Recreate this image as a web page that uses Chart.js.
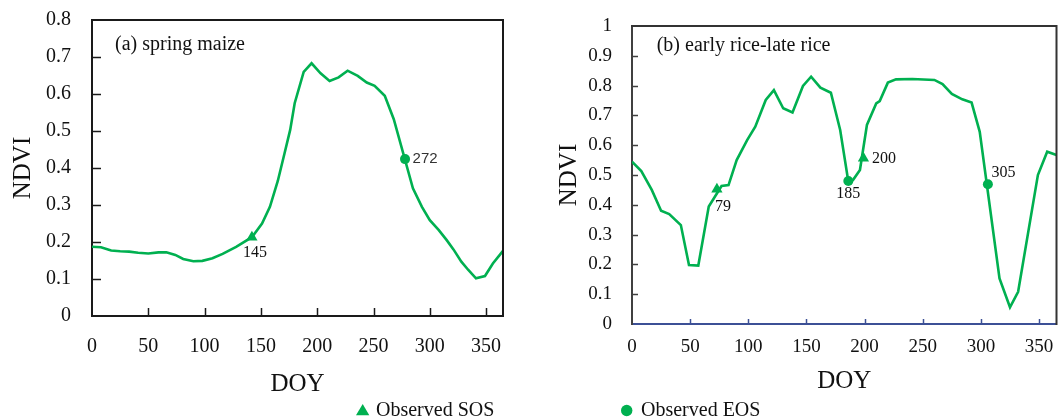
<!DOCTYPE html>
<html><head><meta charset="utf-8">
<script src="https://cdn.jsdelivr.net/npm/chart.js@4.4.1/dist/chart.umd.min.js"></script>
<style>
html,body{margin:0;padding:0;background:#fff;}
#wrap{position:relative;width:1063px;height:419px;overflow:hidden;font-family:"Liberation Serif","Times New Roman",serif;}
#cA{position:absolute;left:0;top:0;}
#cB{position:absolute;left:530px;top:0;}
.leg{position:absolute;top:397px;font-size:20px;line-height:24px;color:#111;white-space:nowrap;}
.mk{position:absolute;}
</style></head><body>
<div id="wrap">
<canvas id="cA" width="530" height="419"></canvas>
<canvas id="cB" width="533" height="419"></canvas>
<svg class="mk" style="left:355px;top:403px" width="16" height="14"><polygon points="7.7,1 14.3,12.3 1,12.3" fill="#00b050"/></svg>
<div class="leg" style="left:376px">Observed SOS</div>
<svg class="mk" style="left:620px;top:404px" width="14" height="14"><circle cx="6.7" cy="6.5" r="5.7" fill="#00b050"/></svg>
<div class="leg" style="left:641px">Observed EOS</div>
</div>
<script>
// ---------- data ----------
const X_TICKS = [0, 50, 100, 150, 200, 250, 300, 350];
const Y_TICKS_A = [0, 0.1, 0.2, 0.3, 0.4, 0.5, 0.6, 0.7, 0.8];
const Y_TICKS_B = [0, 0.1, 0.2, 0.3, 0.4, 0.5, 0.6, 0.7, 0.8, 0.9, 1];

// (a) spring maize
const DOY_A = [0, 8, 17, 25, 33, 41, 50, 59, 66, 74, 81, 90, 98, 107, 116, 128, 142, 151, 158, 165, 171, 176, 180, 188, 195, 203, 211, 219, 227, 236, 244, 251, 260, 268, 285, 293, 300, 308, 315, 321, 328, 334, 341, 349, 356, 365];
const NDVI_A = [0.187, 0.186, 0.177, 0.175, 0.174, 0.171, 0.169, 0.172, 0.172, 0.165, 0.154, 0.148, 0.149, 0.156, 0.168, 0.187, 0.213, 0.25, 0.295, 0.365, 0.44, 0.503, 0.575, 0.66, 0.683, 0.656, 0.635, 0.645, 0.663, 0.649, 0.631, 0.622, 0.595, 0.532, 0.345, 0.295, 0.259, 0.232, 0.205, 0.18, 0.147, 0.125, 0.102, 0.108, 0.142, 0.176];
const SOS_A_DOY = [142];
const SOS_A_NDVI = [0.213];
const SOS_A_LABEL = ['145'];
const EOS_A_DOY = [278];
const EOS_A_NDVI = [0.424];
const EOS_A_LABEL = ['272'];

// (b) early rice-late rice
const DOY_B = [0, 8, 17, 25, 32, 42, 49, 57, 66, 77, 83, 90, 99, 106, 115, 122, 130, 138, 147, 154, 162, 171, 179, 186, 190, 196, 202, 210, 213, 220, 227, 241, 260, 267, 275, 284, 292, 299, 316, 325, 332, 349, 357, 365];
const NDVI_B = [0.545, 0.513, 0.45, 0.38, 0.369, 0.332, 0.198, 0.196, 0.394, 0.463, 0.466, 0.55, 0.617, 0.662, 0.752, 0.785, 0.724, 0.71, 0.799, 0.83, 0.793, 0.776, 0.651, 0.478, 0.483, 0.517, 0.668, 0.74, 0.748, 0.81, 0.821, 0.822, 0.819, 0.805, 0.772, 0.754, 0.743, 0.645, 0.153, 0.056, 0.108, 0.5, 0.578, 0.567];
const SOS_B_DOY = [73, 199];
const SOS_B_NDVI = [0.452, 0.556];
const SOS_B_LABEL = ['79', '200'];
const EOS_B_DOY = [186, 306];
const EOS_B_NDVI = [0.48, 0.469];
const EOS_B_LABEL = ['185', '305'];

// ---------- styles ----------
const GREEN = '#00b050';
const SERIF = '"Liberation Serif", "Times New Roman", serif';
const SANS = '"Liberation Sans", Arial, sans-serif';

const zip = (xs, ys) => xs.map((x, i) => ({x: x, y: ys[i]}));

const frameTicks = {
  id: 'frameTicks',
  afterDraw(chart, args, o) {
    const {ctx, chartArea: a, scales: {x, y}} = chart;
    ctx.save();
    ctx.lineCap = 'butt';
    ctx.strokeStyle = o.frameColor; ctx.lineWidth = o.frameWidth;
    ctx.beginPath();
    ctx.moveTo(a.left - 1, a.top); ctx.lineTo(a.right, a.top); ctx.lineTo(a.right, a.bottom + 1);
    ctx.stroke();
    ctx.lineWidth = o.tickWidth;
    ctx.strokeStyle = o.xTickColor;
    x.ticks.forEach(t => {
      if (t.value <= x.min || t.value >= x.max) return;
      const px = Math.round(x.getPixelForValue(t.value)) + 0.5;
      ctx.beginPath(); ctx.moveTo(px, a.bottom); ctx.lineTo(px, a.bottom - o.xTickLen); ctx.stroke();
    });
    ctx.strokeStyle = o.yTickColor;
    y.ticks.forEach(t => {
      if (t.value <= y.min || t.value >= y.max) return;
      const py = Math.round(y.getPixelForValue(t.value)) + 0.5;
      ctx.beginPath(); ctx.moveTo(a.left, py); ctx.lineTo(a.left + o.yTickLen, py); ctx.stroke();
    });
    ctx.restore();
  }
};

const annot = {
  id: 'annot',
  afterDatasetsDraw(chart, args, o) {
    const {ctx, chartArea: a, scales: {x, y}} = chart;
    ctx.save();
    ctx.textBaseline = 'middle';
    o.items.forEach(it => {
      ctx.font = it.font; ctx.fillStyle = it.color; ctx.textAlign = it.align;
      ctx.fillText(it.text, x.getPixelForValue(it.x) + it.dx, y.getPixelForValue(it.y) + it.dy);
    });
    ctx.font = '20px ' + SERIF; ctx.fillStyle = '#111'; ctx.textAlign = 'left';
    ctx.fillText(o.title, a.left + o.tdx, a.top + o.tdy);
    ctx.restore();
  }
};

function labelItems(xs, ys, labels, styles) {
  return xs.map((v, i) => Object.assign({x: v, y: ys[i], text: labels[i]}, styles[i]));
}

function zeroPad(sc) { sc.paddingLeft = 0; sc.paddingRight = 0; sc.paddingTop = 0; sc.paddingBottom = 0; }

function makeChart(id, s) {
  return new Chart(document.getElementById(id), {
    type: 'scatter',
    data: {datasets: [
      {label: 'Observed SOS', data: zip(s.sosX, s.sosY), pointStyle: 'triangle', pointRadius: 6.5, backgroundColor: GREEN, borderWidth: 0, showLine: false, order: 0},
      {label: 'Observed EOS', data: zip(s.eosX, s.eosY), pointStyle: 'circle', pointRadius: 5, backgroundColor: GREEN, borderWidth: 0, showLine: false, order: 0},
      {label: 'NDVI', data: zip(s.x, s.y), showLine: true, borderColor: GREEN, borderWidth: 2.6, pointRadius: 0, tension: 0, fill: false, order: 1}
    ]},
    options: {
      responsive: false, animation: false, events: [],
      layout: {padding: {left: 0, right: s.padR, top: s.padT, bottom: 0}},
      plugins: {
        legend: {display: false}, tooltip: {enabled: false},
        frameTicks: s.frame,
        annot: {items: s.items, title: s.title, tdx: s.tdx, tdy: s.tdy}
      },
      scales: {
        x: {
          type: 'linear', min: 0, max: 365,
          afterBuildTicks: sc => { sc.ticks = X_TICKS.map(v => ({value: v})); },
          afterFit: sc => { sc.height = s.xH; zeroPad(sc); },
          ticks: {font: {family: SERIF, size: s.tickSize}, color: '#111', padding: s.xPad, maxRotation: 0, autoSkip: false, callback: v => String(v)},
          grid: {display: true, drawOnChartArea: false, drawTicks: false},
          border: {display: true, color: s.xColor, width: 2},
          title: {display: true, text: 'DOY', font: {family: SERIF, size: 25}, color: '#111', padding: {top: 0, bottom: s.xTitlePad}}
        },
        y: {
          type: 'linear', min: 0, max: s.yMax,
          afterBuildTicks: sc => { sc.ticks = s.yTicks.map(v => ({value: v})); },
          afterFit: sc => { sc.width = s.yW; zeroPad(sc); },
          ticks: {font: {family: SERIF, size: s.tickSize}, color: '#111', padding: s.yPad, autoSkip: false, callback: v => String(v)},
          grid: {display: true, drawOnChartArea: false, drawTicks: false},
          border: {display: true, color: s.yColor, width: 2},
          title: {display: true, text: 'NDVI', font: {family: SERIF, size: 25}, color: '#111', padding: {top: s.yTitlePad, bottom: 0}}
        }
      }
    },
    plugins: [frameTicks, annot]
  });
}

makeChart('cA', {
  x: DOY_A, y: NDVI_A, sosX: SOS_A_DOY, sosY: SOS_A_NDVI, eosX: EOS_A_DOY, eosY: EOS_A_NDVI,
  yMax: 0.8, yTicks: Y_TICKS_A,
  padR: 27, padT: 20, xH: 103, yW: 92, tickSize: 20, xPad: 19, yPad: 21, xTitlePad: 20, yTitlePad: 8,
  xColor: '#1a1a1a', yColor: '#1a1a1a',
  frame: {frameColor: '#1a1a1a', frameWidth: 2, tickWidth: 1.5, xTickColor: '#1a1a1a', yTickColor: '#1a1a1a', xTickLen: 8, yTickLen: 9},
  items: labelItems(SOS_A_DOY, SOS_A_NDVI, SOS_A_LABEL, [{dx: 3, dy: 16, align: 'center', font: '16px ' + SERIF, color: '#111'}])
    .concat(labelItems(EOS_A_DOY, EOS_A_NDVI, EOS_A_LABEL, [{dx: 7.5, dy: -0.5, align: 'left', font: '15px ' + SANS, color: '#333'}])),
  title: '(a) spring maize', tdx: 23, tdy: 24.3
});

makeChart('cB', {
  x: DOY_B, y: NDVI_B, sosX: SOS_B_DOY, sosY: SOS_B_NDVI, eosX: EOS_B_DOY, eosY: EOS_B_NDVI,
  yMax: 1, yTicks: Y_TICKS_B,
  padR: 1, padT: 26, xH: 95, yW: 102, tickSize: 19, xPad: 12, yPad: 20, xTitlePad: 23, yTitlePad: 24,
  xColor: '#3c5096', yColor: '#404040',
  frame: {frameColor: '#333333', frameWidth: 2, tickWidth: 1.5, xTickColor: '#3c5096', yTickColor: '#404040', xTickLen: 5, yTickLen: 6},
  items: labelItems(SOS_B_DOY, SOS_B_NDVI, SOS_B_LABEL, [
      {dx: 6, dy: 17, align: 'center', font: '16px ' + SERIF, color: '#111'},
      {dx: 8.6, dy: 0, align: 'left', font: '16px ' + SERIF, color: '#111'}])
    .concat(labelItems(EOS_B_DOY, EOS_B_NDVI, EOS_B_LABEL, [
      {dx: 0, dy: 13, align: 'center', font: '16px ' + SERIF, color: '#111'},
      {dx: 3.5, dy: -11.7, align: 'left', font: '16px ' + SERIF, color: '#111'}])),
  title: '(b) early rice-late rice', tdx: 24.7, tdy: 19.8
});
</script>
</body></html>
